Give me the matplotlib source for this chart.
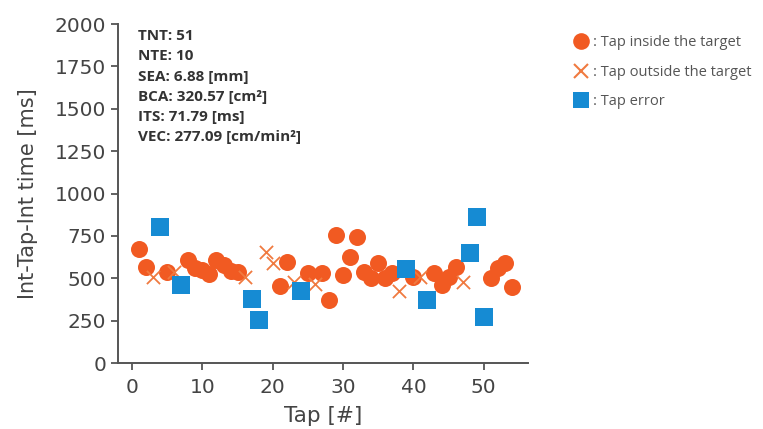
import matplotlib
matplotlib.use("Agg")
import matplotlib.pyplot as plt
from matplotlib.lines import Line2D

# tap index and inter-tap time [ms], split by type of tap
inside_x = [1, 2, 5, 8, 9, 10, 11, 12, 13, 14, 15, 21, 22, 25, 27, 28, 29, 30, 31, 32,
            33, 34, 35, 36, 37, 40, 43, 44, 45, 46, 51, 52, 53, 54]
inside_y = [675, 568, 539, 608, 559, 550, 525, 608, 578, 545, 539, 454, 598, 529, 533, 372, 755, 519, 623, 741,
            539, 500, 592, 500, 529, 510, 530, 460, 510, 568, 500, 558, 592, 447]

outside_x = [3, 6, 16, 19, 20, 23, 26, 38, 41, 47]
outside_y = [510, 539, 506, 657, 592, 480, 465, 427, 506, 480]

error_x = [4, 7, 17, 18, 24, 39, 42, 48, 49, 50]
error_y = [804, 460, 376, 254, 427, 553, 372, 647, 860, 273]

stats_lines = ["TNT: 51", "NTE: 10", "SEA: 6.88 [mm]", "BCA: 320.57 [cm²]",
               "ITS: 71.79 [ms]", "VEC: 277.09 [cm/min²]"]
legend_labels = [": Tap inside the target", ": Tap outside the target", ": Tap error"]

orange = "#F15A22"
cross_col = "#F07A40"
blue = "#168BD3"
grey = "#444444"

fig = plt.figure(figsize=(7.63, 4.29), dpi=100)
ax = fig.add_axes([0.1547, 0.1538, 0.5373, 0.7902])

ax.scatter(inside_x, inside_y, s=150, color=orange, marker="o", linewidths=0, zorder=3)
ax.scatter(outside_x, outside_y, s=90, color=cross_col, marker="x", linewidths=1.3, zorder=3)
ax.scatter(error_x, error_y, s=170, color=blue, marker="s", linewidths=0, zorder=4)

ax.set_xlim(-2, 56.3)
ax.set_ylim(0, 2000)
ax.set_xticks([0, 10, 20, 30, 40, 50])
ax.set_yticks(range(0, 2001, 250))
for side in ["top", "right"]:
    ax.spines[side].set_visible(False)
for side in ["left", "bottom"]:
    ax.spines[side].set_color("#555555")
    ax.spines[side].set_linewidth(1.4)
ax.tick_params(colors="#555555", labelcolor=grey, labelsize=14.5, length=5, width=1.3)
ax.tick_params(axis="x", pad=6)
ax.set_xlabel("Tap [#]", fontsize=15.5, color=grey, labelpad=6)
ax.set_ylabel("Int-Tap-Int time [ms]", fontsize=15, color=grey, labelpad=12)

ax.text(0.049, 0.985, "\n".join(stats_lines), transform=ax.transAxes, va="top", ha="left",
        fontsize=11, fontweight="bold", color="#333333", linespacing=1.57,
        family=["Open Sans", "DejaVu Sans"])

handles = [
    Line2D([], [], linestyle="none", marker="o", markersize=12, color=orange, markeredgewidth=0),
    Line2D([], [], linestyle="none", marker="x", markersize=10, color=cross_col, markeredgewidth=1.5),
    Line2D([], [], linestyle="none", marker="s", markersize=12, color=blue, markeredgewidth=0),
]
leg = fig.legend(handles, legend_labels, loc="upper left", bbox_to_anchor=(0.735, 0.948),
                 frameon=False, handlelength=1.0, handletextpad=0.3, labelspacing=0.98,
                 prop={"family": "Open Sans", "size": 10.5})
for t in leg.get_texts():
    t.set_color("#555555")

fig.savefig("out.png", dpi=100)
